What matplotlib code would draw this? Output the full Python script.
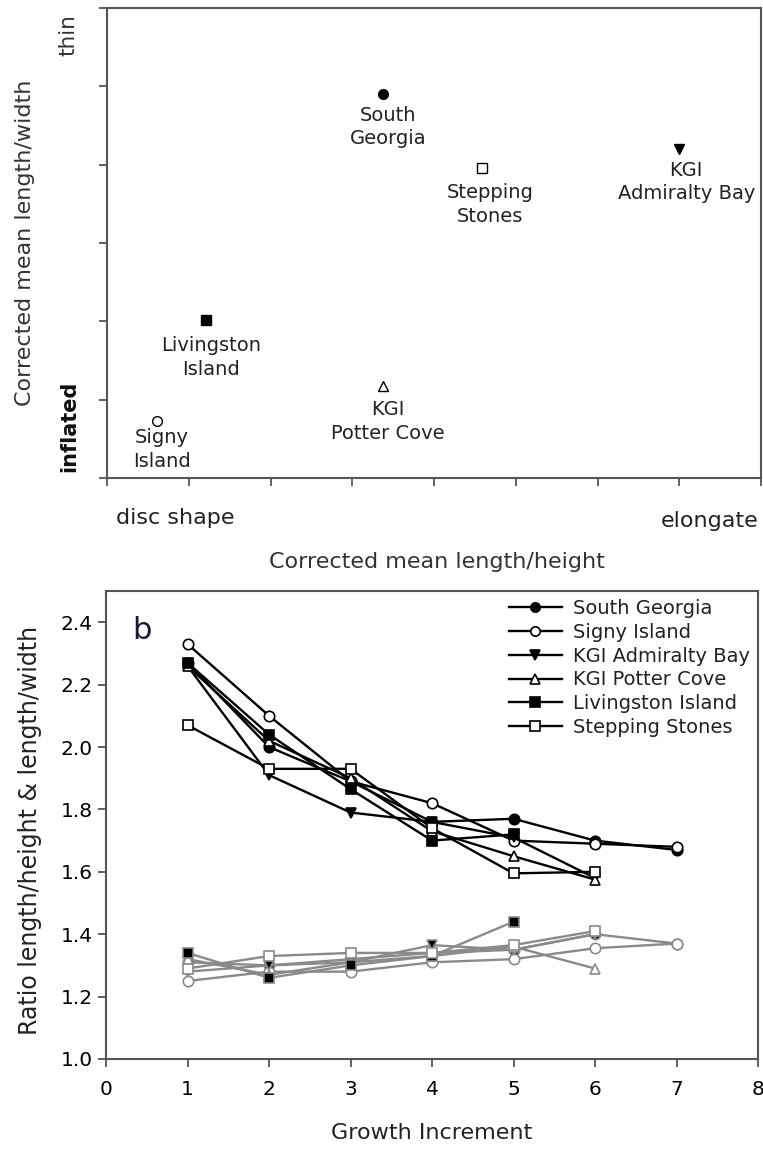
import numpy as np
import matplotlib.pyplot as plt

# sites, in legend order
sites = ["South Georgia", "Signy Island", "KGI Admiralty Bay",
         "KGI Potter Cove", "Livingston Island", "Stepping Stones"]
site_labels = ["South\nGeorgia", "Signy\nIsland", "KGI\nAdmiralty Bay",
               "KGI\nPotter Cove", "Livingston\nIsland", "Stepping\nStones"]
markers = ['o', 'o', 'v', '^', 's', 's']
filled = [True, False, True, False, True, False]

# panel a: corrected mean shape (arbitrary units)
shape_lh = [3.38, 0.61, 7.0, 3.38, 1.21, 4.59]
shape_lw = [4.90, 0.73, 4.2, 1.18, 2.02, 3.96]
label_off = [(3.6, -23.8), (3.6, -20.5), (5.0, -23.8),
             (2.9, -26.0), (3.6, -27.0), (5.8, -26.3)]

# panel b: ratios per growth increment
increments = [1, 2, 3, 4, 5, 6, 7]
lh_sg = [2.27, 2.00, 1.89, 1.76, 1.77, 1.70, 1.67]
lh_signy = [2.33, 2.10, 1.89, 1.82, 1.70, 1.69, 1.68]
lh_ab = [2.26, 1.91, 1.79, 1.76, 1.71, 1.58]
lh_pc = [2.26, 2.02, 1.90, 1.73, 1.65, 1.575]
lh_liv = [2.27, 2.04, 1.865, 1.70, 1.72]
lh_ss = [2.07, 1.93, 1.93, 1.74, 1.595, 1.60]

lw_sg = [1.31, 1.30, 1.32, 1.34, 1.35, 1.40, 1.37]
lw_signy = [1.25, 1.28, 1.28, 1.31, 1.32, 1.355, 1.37]
lw_ab = [1.28, 1.30, 1.31, 1.365, 1.35, 1.40]
lw_pc = [1.32, 1.27, 1.31, 1.33, 1.36, 1.29]
lw_liv = [1.34, 1.26, 1.30, 1.33, 1.44]
lw_ss = [1.29, 1.33, 1.34, 1.34, 1.365, 1.41]

lh_all = [lh_sg, lh_signy, lh_ab, lh_pc, lh_liv, lh_ss]
lw_all = [lw_sg, lw_signy, lw_ab, lw_pc, lw_liv, lw_ss]

W, H = 763, 1149
spine_col = '#555555'
gray = '#8a8a8a'


def style_axes(ax):
    for s in ax.spines.values():
        s.set_color(spine_col)
        s.set_linewidth(1.5)
    ax.tick_params(direction='out', length=6, width=1.3, color=spine_col,
                   labelsize=14.5, top=False, right=False)


def fx(px):
    return px / W


def fy(py):
    return 1 - py / H


fig = plt.figure(figsize=(W / 100, H / 100), dpi=100)

# ---- panel a
ax1 = fig.add_axes([fx(107), fy(478), (761 - 107) / W, (478 - 8) / H])
style_axes(ax1)
ax1.set_xlim(0, 8)
ax1.set_ylim(0, 6)
ax1.set_xticks(range(0, 9))
ax1.set_yticks(range(0, 7))
ax1.set_xticklabels([])
ax1.set_yticklabels([])
for i in range(len(sites)):
    ax1.plot(shape_lh[i], shape_lw[i], marker=markers[i], ls='none',
             markersize=7, markeredgewidth=1, markeredgecolor='black',
             markerfacecolor='black' if filled[i] else 'white')
    ax1.annotate(site_labels[i], (shape_lh[i], shape_lw[i]),
                 xytext=label_off[i], textcoords='offset points',
                 ha='center', va='center', fontsize=14, linespacing=1.3,
                 color='#222222')

fig.text(fx(68), fy(35), "thin", rotation=90, ha='center', va='center',
         fontsize=15.5, color='#333333')
fig.text(fx(69), fy(426), "inflated", rotation=90, ha='center', va='center',
         fontsize=15, fontweight='bold', color='#111111')
fig.text(fx(25), fy(243), "Corrected mean length/width", rotation=90,
         ha='center', va='center', fontsize=16, color='#333333')
fig.text(fx(175), fy(518), "disc shape", ha='center', va='center',
         fontsize=16, color='#222222')
fig.text(fx(710), fy(521), "elongate", ha='center', va='center',
         fontsize=16, color='#222222')
fig.text(fx(437), fy(562), "Corrected mean length/height", ha='center',
         va='center', fontsize=16, color='#333333')

# ---- panel b
ax2 = fig.add_axes([fx(106), fy(1059), (758 - 106) / W, (1059 - 591) / H])
style_axes(ax2)
ax2.tick_params(axis='x', pad=9)
ax2.set_xlim(0, 8)
ax2.set_ylim(1.0, 2.5)
ax2.set_xticks(range(0, 9))
ax2.set_yticks(np.arange(1.0, 2.41, 0.2))
ax2.set_yticklabels(["%.1f" % v for v in np.arange(1.0, 2.41, 0.2)])

for i in range(len(sites)):
    y = lw_all[i]
    ax2.plot(increments[:len(y)], y, color=gray, lw=1.7,
             marker=markers[i], markersize=7.5, markeredgewidth=1.2,
             markeredgecolor=gray,
             markerfacecolor='black' if filled[i] else 'white')

for i in range(len(sites)):
    y = lh_all[i]
    ax2.plot(increments[:len(y)], y, color='black', lw=1.7,
             marker=markers[i], markersize=7.5, markeredgewidth=1.2,
             markeredgecolor='black',
             markerfacecolor='black' if filled[i] else 'white',
             label=sites[i])

ax2.legend(loc='upper right', bbox_to_anchor=(1.0, 1.0), frameon=False,
           fontsize=14, labelspacing=0.25, handlelength=2.7,
           handletextpad=0.6, borderaxespad=0.2, borderpad=0.2,
           labelcolor='#222222', markerscale=0.9)

ax2.text(0.04, 0.915, "b", transform=ax2.transAxes, fontsize=22,
         ha='left', va='center', color='#1a1a30')

fig.text(fx(30), fy(830), "Ratio length/height & length/width",
         rotation=90, ha='center', va='center', fontsize=17, color='#222222')
fig.text(fx(432), fy(1133), "Growth Increment", ha='center', va='center',
         fontsize=16, color='#222222')

plt.savefig("out.png", dpi=100)
